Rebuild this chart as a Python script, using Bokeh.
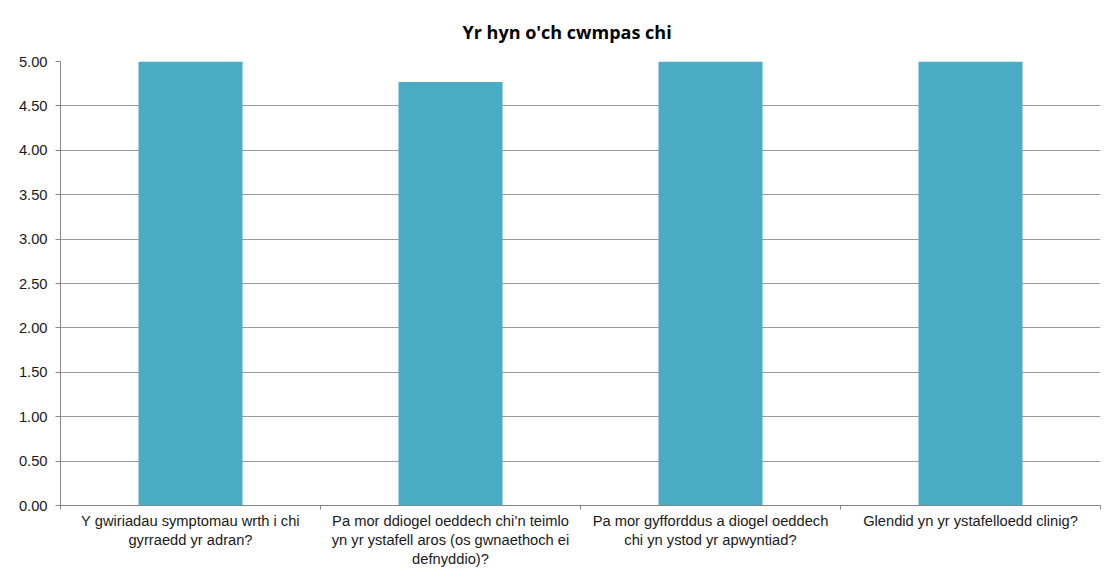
from bokeh.plotting import figure
from bokeh.models import FixedTicker, Range1d, ColumnDataSource, NumeralTickFormatter
from bokeh.embed import file_html
from bokeh.resources import INLINE

categories = [
    "Y gwiriadau symptomau wrth i chi\ngyrraedd yr adran?",
    "Pa mor ddiogel oeddech chi\u2019n teimlo\nyn yr ystafell aros (os gwnaethoch ei\ndefnyddio)?",
    "Pa mor gyfforddus a diogel oeddech\nchi yn ystod yr apwyntiad?",
    "Glendid yn yr ystafelloedd clinig?",
]
values = [5.00, 4.77, 5.00, 5.00]
y_ticks = [0.0, 0.5, 1.0, 1.5, 2.0, 2.5, 3.0, 3.5, 4.0, 4.5, 5.0]
title_text = "Yr hyn o'ch cwmpas chi"

n = len(categories)
centers = [i + 0.5 for i in range(n)]
src = ColumnDataSource(dict(x=centers, top=values))

FONT = "Liberation Sans"
TXT = "#1a1a1a"
GRID = "#9a9a9a"
AXIS = "#868686"

p = figure(width=1102, height=569, output_backend="svg", toolbar_location=None,
           x_range=Range1d(0, n), y_range=Range1d(0, 5),
           min_border_left=60, min_border_right=2, min_border_bottom=57, min_border_top=61)
p.title.text = title_text
p.title.align = "left"
p.title.offset = 402
p.title.text_font = "Open Sans"
p.title.text_font_style = "bold"
p.title.text_font_size = "18px"
p.title.text_color = "#000000"
p.title.standoff = 35

p.vbar(x="x", top="top", width=0.4, source=src, fill_color="#4BACC6", line_color=None)

p.outline_line_color = None
p.background_fill_color = "white"
p.border_fill_color = "white"

# y axis
p.yaxis.ticker = FixedTicker(ticks=y_ticks, minor_ticks=[])
p.yaxis.formatter = NumeralTickFormatter(format="0.00")
p.yaxis.axis_line_color = AXIS
p.yaxis.major_tick_line_color = AXIS
p.yaxis.major_tick_out = 5
p.yaxis.major_tick_in = 0
p.yaxis.minor_tick_line_color = None
p.yaxis.major_label_standoff = 8
p.yaxis.major_label_text_font = FONT
p.yaxis.major_label_text_font_size = "14.7px"
p.yaxis.major_label_text_color = TXT

# x axis: labels at category centres, ticks at category boundaries (minor ticks)
p.xaxis.ticker = FixedTicker(ticks=centers, minor_ticks=list(range(n + 1)))
p.xaxis.major_label_overrides = {c: lab for c, lab in zip(centers, categories)}
p.xaxis.axis_line_color = AXIS
p.xaxis.major_tick_line_color = None
p.xaxis.major_tick_out = 0
p.xaxis.major_tick_in = 0
p.xaxis.minor_tick_line_color = AXIS
p.xaxis.minor_tick_out = 4
p.xaxis.minor_tick_in = 0
p.xaxis.major_label_standoff = 3
p.xaxis.major_label_text_font = FONT
p.xaxis.major_label_text_font_size = "14.7px"
p.xaxis.major_label_text_line_height = 1.2
p.xaxis.major_label_text_color = TXT
p.xaxis.major_label_text_align = "center"

p.xgrid.grid_line_color = None
p.ygrid.grid_line_color = GRID
p.ygrid.grid_line_width = 1

open("out.html", "w").write(file_html(p, INLINE))
